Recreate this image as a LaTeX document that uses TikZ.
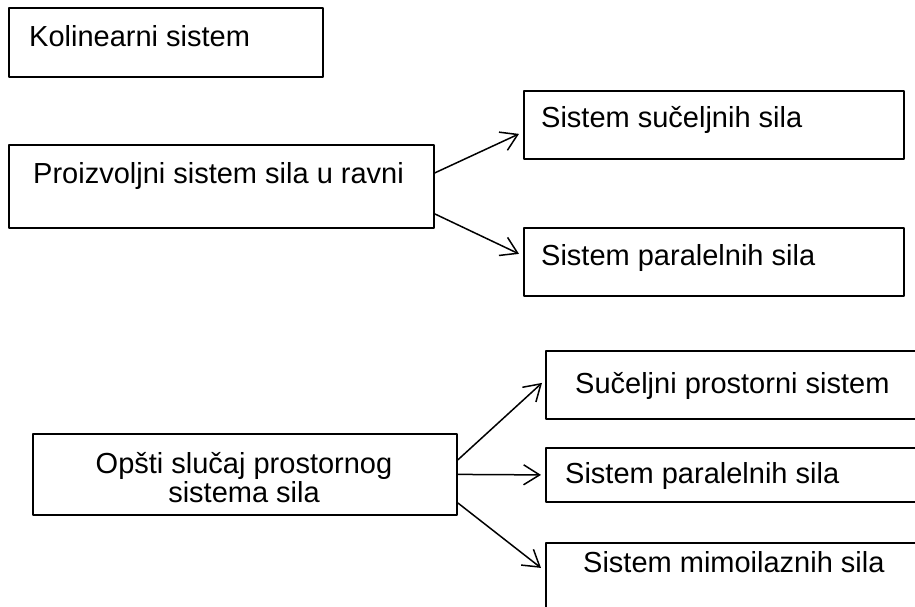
\documentclass[tikz,border=0pt]{standalone}
\usepackage{fontspec}
\setmainfont{Liberation Sans}
\usetikzlibrary{arrows.meta}
\begin{document}
\begin{tikzpicture}[x=1pt,y=-1pt,line join=round,line cap=round,
    box/.style={draw,line width=1.8pt,anchor=north west,inner sep=0pt},
    txt/.style={anchor=base west,inner sep=0pt,font=\fontsize{29}{29}\selectfont},
    arr/.style={line width=1.5pt,-{Straight Barb[length=16pt,width=20pt,line width=1.5pt]}}]
    \useasboundingbox (0,0) rectangle (915,606);
    \clip (0,0) rectangle (915,606);
    % ravan
    \node[box,minimum width=314pt,minimum height=69pt] (kol) at (8,7) {};
    \node[txt] (kolt) at (29,46) {Kolinearni sistem};
    \node[box,minimum width=425pt,minimum height=83pt] (proiz) at (8,144) {};
    \node[txt] (proizt) at (33,183) {Proizvoljni sistem sila u ravni};
    \node[box,minimum width=380pt,minimum height=68pt] (suc) at (523,90) {};
    \node[txt] (suct) at (541,127) {Sistem sučeljnih sila};
    \node[box,minimum width=380pt,minimum height=68pt] (par) at (523,227) {};
    \node[txt] (part) at (541,265) {Sistem paralelnih sila};
    \draw[arr] ([yshift=13.5pt]proiz.east) -- ([xshift=-4pt,yshift=-9pt]suc.west);
    \draw[arr] ([yshift=-27.5pt]proiz.east) -- ([xshift=-4pt,yshift=8pt]par.west);
    % prostor
    \node[box,minimum width=424pt,minimum height=81pt] (opsti) at (32,433) {};
    \node[txt,anchor=base,align=center] (opstit) at (244,502) {Opšti slučaj prostornog\\sistema sila};
    \node[box,minimum width=383pt,minimum height=68pt] (sucp) at (545,350) {};
    \node[txt] (sucpt) at (575,393) {Sučeljni prostorni sistem};
    \node[box,minimum width=383pt,minimum height=54pt] (parp) at (545,447) {};
    \node[txt] (parpt) at (565,483) {Sistem paralelnih sila};
    \node[box,minimum width=383pt,minimum height=83pt] (mim) at (545,542) {};
    \node[txt] (mimt) at (583,572) {Sistem mimoilaznih sila};
    \draw[arr] ([yshift=14.5pt]opsti.east) -- ([xshift=-3pt,yshift=2pt]sucp.west);
    \draw[arr] (opsti.east) -- ([xshift=-4pt]parp.west);
    \draw[arr] ([yshift=-28.5pt]opsti.east) -- ([xshift=-4pt,yshift=16.5pt]mim.west);
\end{tikzpicture}
\end{document}
